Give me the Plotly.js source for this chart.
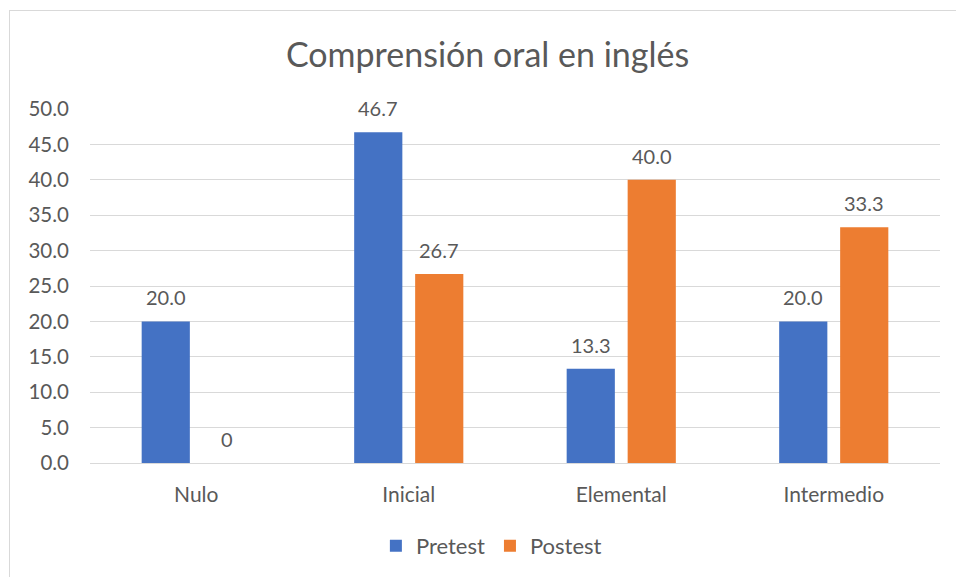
<!DOCTYPE html>
<html>
<head>
<meta charset="utf-8">
<script src="https://cdn.plot.ly/plotly-3.0.1.min.js"></script>
<style>
html,body{margin:0;padding:0;background:#fff;overflow:hidden;}
#wrap{position:relative;width:956px;height:577px;}
#chart{width:956px;height:577px;}
#frame{position:absolute;left:9px;top:10px;width:960px;height:600px;border:1px solid #d9d9d9;pointer-events:none;box-sizing:border-box;}
</style>
</head>
<body>
<div id="wrap"><div id="chart"></div><div id="frame"></div></div>
<script>
const categories = ["Nulo", "Inicial", "Elemental", "Intermedio"];
const pretest = [20.0, 46.7, 13.3, 20.0];
const postest = [0, 26.7, 40.0, 33.3];
const seriesNames = ["Pretest", "Postest"];
const yTicks = [0, 5, 10, 15, 20, 25, 30, 35, 40, 45, 50];

const FONT = "Lato, 'Open Sans', sans-serif";
const TXT = "#595959";
const BARGAP = 0.426, GROUPGAP = 0.21;
function lbl(v){ return v === 0 ? "0" : v.toFixed(1); }

const traces = [
  {type:"bar", name:seriesNames[0], x:categories, y:pretest,
   marker:{color:"#4472C4"}, hoverinfo:"none"},
  {type:"bar", name:seriesNames[1], x:categories, y:postest,
   marker:{color:"#ED7D31"}, hoverinfo:"none"}
];

// data labels placed through the axes (category index +/- half a bar slot)
const slot = (1 - BARGAP) / 2;
const annotations = [];
[pretest, postest].forEach((series, s) => {
  series.forEach((v, i) => {
    annotations.push({x: i + (s - 0.5) * slot, y: v, xref:"x", yref:"y",
      text: lbl(v), showarrow:false, yshift:24, yanchor:"middle", xanchor:"center",
      font:{family:FONT, size:20, color:TXT}});
  });
});

const layout = {
  width:956, height:577,
  margin:{l:90, r:16, t:109, b:114},
  paper_bgcolor:"#fff", plot_bgcolor:"#fff",
  font:{family:FONT, color:TXT, size:20},
  title:{text:"Comprensión oral en inglés", font:{family:FONT, size:34, color:TXT},
         x:0.51, xanchor:"center", y:0.905, yanchor:"middle"},
  barmode:"group", bargap:BARGAP, bargroupgap:GROUPGAP,
  xaxis:{type:"category", showgrid:false, showline:false, zeroline:false, ticks:"",
         tickfont:{family:FONT, size:21, color:TXT}, ticklabelstandoff:17, automargin:false},
  yaxis:{range:[0,50], tickvals:yTicks, ticktext:yTicks.map(v=>v.toFixed(1)),
         showgrid:true, gridcolor:"#d9d9d9", gridwidth:1, zeroline:true, zerolinecolor:"#d9d9d9",
         zerolinewidth:1, showline:false, ticks:"", tickfont:{family:FONT, size:20.5, color:TXT},
         ticklabelstandoff:20, automargin:false},
  annotations: annotations,
  showlegend:true,
  legend:{orientation:"h", x:0.514, xanchor:"center", xref:"container", y:0.054, yref:"container", yanchor:"middle",
          font:{family:FONT, size:22, color:TXT}, traceorder:"normal", itemwidth:30}
};

Plotly.newPlot("chart", traces, layout, {displayModeBar:false, staticPlot:true});
</script>
</body>
</html>
